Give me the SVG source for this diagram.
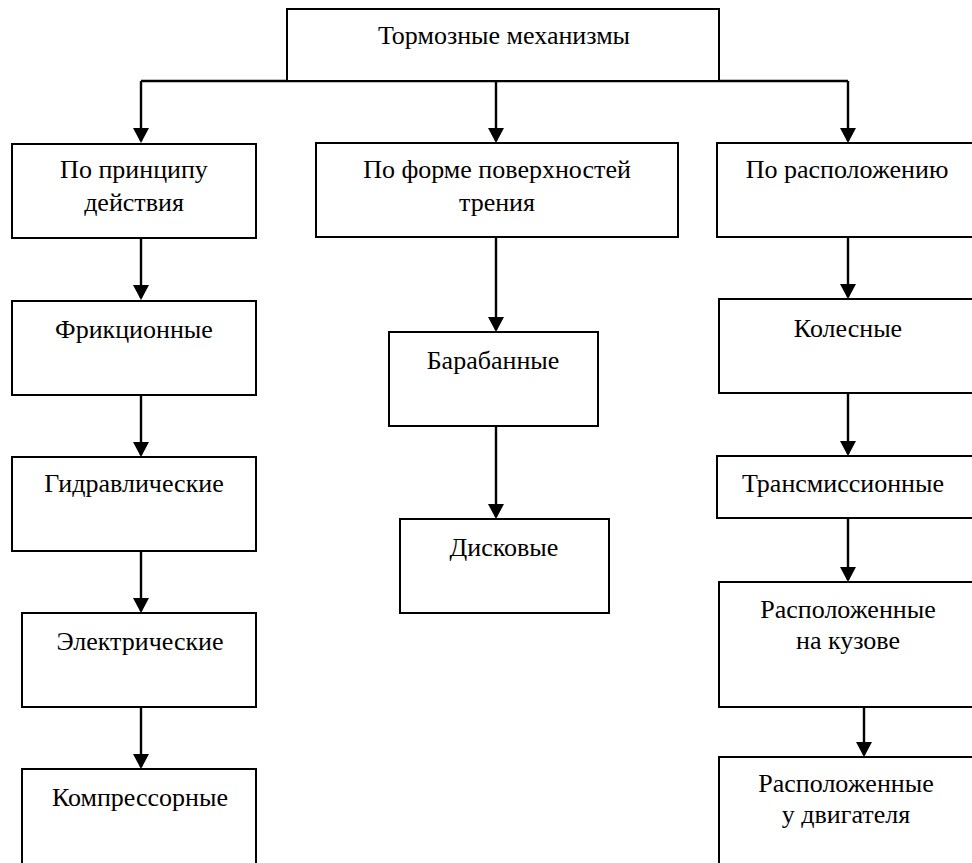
<svg xmlns="http://www.w3.org/2000/svg" width="972" height="863" viewBox="0 0 972 863">
<defs>
<style>
.box{fill:#fff;stroke:#000;stroke-width:2}
.lbl{font-family:'Liberation Serif','Times New Roman',Times,Tinos,'Noto Serif','DejaVu Serif',FreeSerif,serif;font-size:26px;fill:#000;text-anchor:middle}
.con{fill:none;stroke:#000;stroke-width:2.4}
</style>
<marker id="arr" markerUnits="userSpaceOnUse" markerWidth="16" markerHeight="16" viewBox="0 0 15 16" refX="13" refY="8" orient="auto">
<path d="M0,0 L15,8 L0,16 z" fill="#000"/>
</marker>
</defs>
<rect width="972" height="863" fill="#fff"/>
<g id="connectors">
<path class="con" d="M141,81 H848"/>
<path class="con" d="M141,81 V141" marker-end="url(#arr)"/>
<path class="con" d="M496,81 V141" marker-end="url(#arr)"/>
<path class="con" d="M848,81 V141" marker-end="url(#arr)"/>
<path class="con" d="M141,238 V298" marker-end="url(#arr)"/>
<path class="con" d="M141,395 V455" marker-end="url(#arr)"/>
<path class="con" d="M141,551 V611" marker-end="url(#arr)"/>
<path class="con" d="M141,707 V767" marker-end="url(#arr)"/>
<path class="con" d="M496,237 V330" marker-end="url(#arr)"/>
<path class="con" d="M496,426 V517" marker-end="url(#arr)"/>
<path class="con" d="M848,237 V297" marker-end="url(#arr)"/>
<path class="con" d="M848,393 V454" marker-end="url(#arr)"/>
<path class="con" d="M848,518 V580" marker-end="url(#arr)"/>
<path class="con" d="M864,694 V755" marker-end="url(#arr)"/>
</g>
<g id="n-root"><rect class="box" x="287" y="9" width="432" height="72"/><text class="lbl" x="504" y="44">Тормозные механизмы</text></g>
<g id="n-principle"><rect class="box" x="12" y="144" width="244" height="94"/><text class="lbl" x="134" y="178">По принципу</text><text class="lbl" x="134" y="211">действия</text></g>
<g id="n-form"><rect class="box" x="316" y="143" width="362" height="94"/><text class="lbl" x="497" y="178">По форме поверхностей</text><text class="lbl" x="497" y="211">трения</text></g>
<g id="n-location"><rect class="box" x="717" y="143" width="270" height="94"/><text class="lbl" x="847" y="178">По расположению</text></g>
<g id="n-friction"><rect class="box" x="12" y="301" width="244" height="94"/><text class="lbl" x="134" y="338">Фрикционные</text></g>
<g id="n-hydraulic"><rect class="box" x="12" y="457" width="244" height="94"/><text class="lbl" x="134" y="492">Гидравлические</text></g>
<g id="n-electric"><rect class="box" x="22" y="613" width="234" height="94"/><text class="lbl" x="140" y="650">Электрические</text></g>
<g id="n-compressor"><rect class="box" x="22" y="769" width="234" height="120"/><text class="lbl" x="140" y="806">Компрессорные</text></g>
<g id="n-drum"><rect class="box" x="389" y="332" width="209" height="94"/><text class="lbl" x="493" y="369">Барабанные</text></g>
<g id="n-disc"><rect class="box" x="400" y="519" width="209" height="94"/><text class="lbl" x="504" y="556">Дисковые</text></g>
<g id="n-wheel"><rect class="box" x="719" y="299" width="270" height="94"/><text class="lbl" x="848" y="337">Колесные</text></g>
<g id="n-transmission"><rect class="box" x="717" y="456" width="270" height="62"/><text class="lbl" x="843" y="492">Трансмиссионные</text></g>
<g id="n-body"><rect class="box" x="719" y="582" width="270" height="125"/><text class="lbl" x="848" y="618">Расположенные</text><text class="lbl" x="848" y="649">на кузове</text></g>
<g id="n-engine"><rect class="box" x="719" y="757" width="270" height="120"/><text class="lbl" x="846" y="792">Расположенные</text><text class="lbl" x="846" y="823">у двигателя</text></g>
</svg>
